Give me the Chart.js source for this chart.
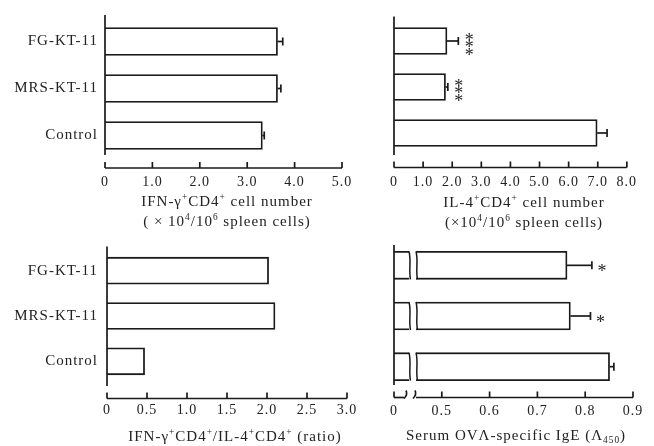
<!DOCTYPE html>
<html>
<head>
<meta charset="utf-8">
<script src="https://cdn.jsdelivr.net/npm/chart.js@4.4.1/dist/chart.umd.min.js"></script>
<style>
  html, body { margin: 0; padding: 0; background: #fff; }
  #wrap { position: relative; width: 654px; height: 446px; }
  canvas { position: absolute; left: 0; top: 0; }
</style>
</head>
<body>
<div id="wrap">
  <canvas id="c1" width="654" height="446"></canvas>
  <canvas id="c2" width="654" height="446"></canvas>
  <canvas id="c3" width="654" height="446"></canvas>
  <canvas id="c4" width="654" height="446"></canvas>
</div>
<script>
// groups, top to bottom
const groups = ['FG-KT-11', 'MRS-KT-11', 'Control'];

// IFN-g+ CD4+ cells (x10^4 / 10^6 spleen cells)
const ifnCells = [3.64, 3.64, 3.32];
const ifnErr = [0.11, 0.07, 0.04];
const ifnTicks = [0, 1, 2, 3, 4, 5];
const ifnTickLabels = ['0', '1.0', '2.0', '3.0', '4.0', '5.0'];

// IL-4+ CD4+ cells
const il4Cells = [1.82, 1.77, 6.98];
const il4Err = [0.39, 0.08, 0.34];
const il4Stars = ['***', '***', ''];
const il4Ticks = [0, 1, 2, 3, 4, 5, 6, 7, 8];
const il4TickLabels = ['0', '1.0', '2.0', '3.0', '4.0', '5.0', '6.0', '7.0', '8.0'];

// IFN-g / IL-4 ratio
const ratio = [2.02, 2.10, 0.47];
const ratioTicks = [0, 0.5, 1, 1.5, 2, 2.5, 3];
const ratioTickLabels = ['0', '0.5', '1.0', '1.5', '2.0', '2.5', '3.0'];

// serum OVA-specific IgE (A450), axis broken below 0.5
const ige = [0.762, 0.769, 0.851];
const igeErr = [0.052, 0.042, 0.009];
const igeStars = ['*', '*', ''];
const igeTicks = [0.4, 0.5, 0.6, 0.7, 0.8, 0.9];
const igeTickLabels = ['0', '0.5', '0.6', '0.7', '0.8', '0.9'];

const INK = '#1a1a1a';
const SERIF = '"Liberation Serif", "Times New Roman", serif';

function pline(ctx, x1, y1, x2, y2) {
  ctx.beginPath();
  ctx.moveTo(x1, y1);
  ctx.lineTo(x2, y2);
  ctx.stroke();
}

function wave(ctx, x, t, b) {
  const h = b - t;
  ctx.beginPath();
  ctx.moveTo(x, t);
  ctx.bezierCurveTo(x + 2.5, t + h * 0.35, x - 0.5, t + h * 0.65, x + 1.5, b);
  ctx.stroke();
}

// text with {^sup} and {_sub} pieces
function drawRich(ctx, str, cx, cy, size) {
  const parts = [];
  const re = /\{([\^_])([^}]*)\}/g;
  let last = 0, m;
  while ((m = re.exec(str))) {
    if (m.index > last) parts.push({ t: str.slice(last, m.index), k: '' });
    parts.push({ t: m[2], k: m[1] });
    last = re.lastIndex;
  }
  if (last < str.length) parts.push({ t: str.slice(last), k: '' });
  const fontFor = k => `${k ? size * 0.62 : size}px ${SERIF}`;
  let w = 0;
  parts.forEach(p => { ctx.font = fontFor(p.k); p.w = ctx.measureText(p.t).width; w += p.w; });
  let x = cx - w / 2;
  const base = cy + size * 0.34;
  ctx.textAlign = 'left';
  ctx.textBaseline = 'alphabetic';
  parts.forEach(p => {
    ctx.font = fontFor(p.k);
    const dy = p.k === '^' ? -size * 0.38 : p.k === '_' ? size * 0.22 : 0;
    ctx.fillText(p.t, x, base + dy);
    x += p.w;
  });
}

function decor(p) {
  return {
    id: 'decor',
    beforeDraw(chart) { chart.ctx.letterSpacing = '1px'; },
    afterDatasetsDraw(chart) {
      const { ctx, chartArea: a, scales: { x } } = chart;
      const bars = chart.getDatasetMeta(0).data;
      ctx.save();
      ctx.strokeStyle = INK;
      ctx.lineWidth = 1.7;

      // break through the bars
      if (p.brk) {
        const b1 = a.left + p.brk.bar[0], b2 = a.left + p.brk.bar[1];
        bars.forEach(b => {
          const t = b.y - b.height / 2, btm = b.y + b.height / 2;
          ctx.fillStyle = '#fff';
          ctx.fillRect(b1, t - 2, b2 - b1, btm - t + 4);
          ctx.lineWidth = 1.5;
          wave(ctx, b1, t, btm);
          wave(ctx, b2, t, btm);
          ctx.lineWidth = 1.7;
        });
      }

      // y axis
      pline(ctx, a.left, p.yLine[0], a.left, p.yLine[1]);

      // x axis, detached below the bars
      const ay = a.bottom + p.axisGap;
      if (p.brk) {
        const g1 = a.left + p.brk.axis[0], g2 = a.left + p.brk.axis[1];
        pline(ctx, a.left, ay, g1, ay);
        pline(ctx, g2, ay, a.right, ay);
        [g1, g2 - 3].forEach(gx => {
          ctx.beginPath();
          ctx.moveTo(gx, ay + 1);
          ctx.quadraticCurveTo(gx + 4, ay - 3, gx + 2, ay - 7);
          ctx.stroke();
        });
      } else {
        pline(ctx, a.left, ay, a.right, ay);
      }
      x.ticks.forEach(t => {
        const px = x.getPixelForValue(t.value);
        pline(ctx, px, ay, px, ay - 6);
      });

      // error bars
      const ends = bars.map((b, i) => {
        const e = p.err ? p.err[i] : 0;
        if (!e) return b.x;
        const x2 = x.getPixelForValue(p.values[i] + e);
        pline(ctx, b.x, b.y, x2, b.y);
        pline(ctx, x2, b.y - 4, x2, b.y + 4);
        return x2;
      });

      // significance stars
      ctx.fillStyle = '#222';
      if (p.stars) {
        ctx.font = `18px ${SERIF}`;
        ctx.letterSpacing = '0px';
        ctx.textAlign = 'center';
        ctx.textBaseline = 'alphabetic';
        p.stars.forEach((s, i) => {
          const n = s.length;
          for (let k = 0; k < n; k++) {
            const cy = bars[i].y + 2 + (k - (n - 1) / 2) * 7.5;
            ctx.fillText('*', ends[i] + p.starDx, cy + 10);
          }
        });
        ctx.letterSpacing = '1px';
      }

      // axis title
      p.title.forEach((s, k) => drawRich(ctx, s, p.titleX, p.titleY + k * 20, 15));
      ctx.restore();
    }
  };
}

function makePanel(id, p) {
  return new Chart(document.getElementById(id), {
    type: 'bar',
    data: {
      labels: groups,
      datasets: [{
        data: p.values,
        backgroundColor: '#fff',
        borderColor: INK,
        borderWidth: 1.8,
        borderSkipped: 'start',
        barThickness: p.barH
      }]
    },
    options: {
      indexAxis: 'y',
      responsive: false,
      animation: false,
      events: [],
      layout: {
        autoPadding: false,
        padding: { left: 0, right: 654 - p.right, top: p.top, bottom: 446 - p.bottom - 30 }
      },
      plugins: { legend: { display: false }, tooltip: { enabled: false } },
      scales: {
        x: {
          min: p.ticks[0],
          max: p.ticks[p.ticks.length - 1],
          afterBuildTicks: s => { s.ticks = p.ticks.map(v => ({ value: v })); },
          afterFit: s => { s.height = 30; },
          grid: { display: false, drawTicks: false },
          border: { display: false },
          ticks: {
            padding: p.tickPad,
            autoSkip: false,
            maxRotation: 0,
            color: '#222',
            font: { family: SERIF, size: 14 },
            callback: (v, i) => p.tickLabels[i]
          }
        },
        y: {
          afterFit: s => { s.width = p.left; },
          grid: { display: false, drawTicks: false },
          border: { display: false },
          ticks: {
            display: p.showLabels,
            padding: p.labelPad || 0,
            color: '#222',
            font: { family: SERIF, size: 15 }
          }
        }
      }
    },
    plugins: [decor(p)]
  });
}

makePanel('c1', {
  values: ifnCells, err: ifnErr, ticks: ifnTicks, tickLabels: ifnTickLabels,
  left: 105, right: 342, top: 18, bottom: 159, barH: 28,
  showLabels: true, labelPad: 7, tickPad: 14.5, axisGap: 9, yLine: [15, 155],
  title: ['IFN-γ{^+}CD4{^+} cell number', '( × 10{^4}/10{^6} spleen cells)'],
  titleX: 227, titleY: 201
});

makePanel('c2', {
  values: il4Cells, err: il4Err, stars: il4Stars, starDx: 11,
  ticks: il4Ticks, tickLabels: il4TickLabels,
  left: 394, right: 633, top: 18, bottom: 156, barH: 27,
  showLabels: false, tickPad: 18.4, axisGap: 11.5, yLine: [16.5, 155],
  title: ['IL-4{^+}CD4{^+} cell number', '(×10{^4}/10{^6} spleen cells)'],
  titleX: 524, titleY: 201.7
});

makePanel('c3', {
  values: ratio, ticks: ratioTicks, tickLabels: ratioTickLabels,
  left: 107, right: 347, top: 248, bottom: 384, barH: 27,
  showLabels: true, labelPad: 9, tickPad: 18.1, axisGap: 14.5, yLine: [246.5, 386],
  title: ['IFN-γ{^+}CD4{^+}/IL-4{^+}CD4{^+} (ratio)'],
  titleX: 235, titleY: 436
});

makePanel('c4', {
  values: ige, err: igeErr, stars: igeStars, starDx: 10,
  ticks: igeTicks, tickLabels: igeTickLabels,
  left: 394, right: 633, top: 240, bottom: 392, barH: 28,
  showLabels: false, tickPad: 10.9, axisGap: 5.5, yLine: [245, 385],
  brk: { bar: [15, 22], axis: [10, 22] },
  title: ['Serum OVΛ-specific IgE (Λ{_450})'],
  titleX: 516, titleY: 435
});
</script>
</body>
</html>
